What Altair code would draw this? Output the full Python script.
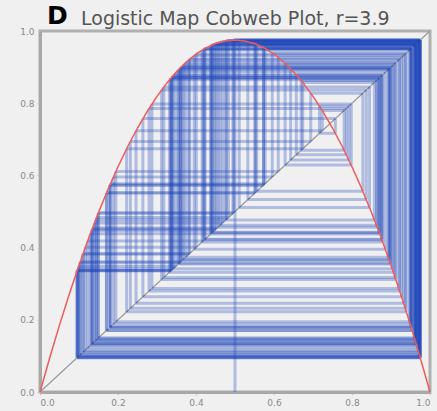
import altair as alt
import pandas as pd

# Orbit of the logistic map (r = 3.9) starting at x0 = 0.5, values as read/estimated
orbit = [0.5, 0.975, 0.0951, 0.3356, 0.8696, 0.4422, 0.9620, 0.1426, 0.4768, 0.9729,
         0.1028, 0.3597, 0.8982, 0.3566, 0.8948, 0.3671, 0.9061, 0.3318, 0.8647, 0.4563,
         0.9676, 0.1223, 0.4186, 0.9492, 0.1881, 0.5956, 0.9394, 0.2220, 0.6736, 0.8575,
         0.4766, 0.97286, 0.10296, 0.36020, 0.89878, 0.35480, 0.89278, 0.37332, 0.91241, 0.31168,
         0.83669, 0.53290, 0.97078, 0.11063, 0.38373, 0.92228, 0.27955, 0.78547, 0.65718, 0.87865,
         0.41583, 0.94737, 0.19445, 0.61089, 0.92704, 0.26378, 0.75738, 0.71665, 0.79195, 0.64258,
         0.89572, 0.36428, 0.90316, 0.34110, 0.87653, 0.42208, 0.95132, 0.18061, 0.57716, 0.95178,
         0.17899, 0.57312, 0.95415, 0.17062, 0.55189, 0.96450, 0.13354, 0.45126, 0.96573, 0.12907,
         0.43840, 0.96020, 0.14904, 0.49463, 0.97489, 0.09547, 0.33678, 0.87110, 0.43791, 0.95997,
         0.14987, 0.49690, 0.97496, 0.09521, 0.33597, 0.87007, 0.44089, 0.96137, 0.14484, 0.48306,
         0.97388, 0.09921, 0.34853, 0.88552, 0.39536, 0.93230, 0.24616, 0.72370, 0.77984, 0.66959,
         0.86283, 0.46158, 0.96924, 0.11627, 0.40073, 0.93657, 0.23169, 0.69424, 0.82786, 0.55578,
         0.96287, 0.13943, 0.46796, 0.97100, 0.10982, 0.38126, 0.92001, 0.28701, 0.79808, 0.62848,
         0.91062, 0.31742, 0.84499, 0.51083, 0.97454, 0.09677, 0.34088, 0.87626, 0.42287, 0.95180,
         0.17892, 0.57294, 0.95425, 0.17026, 0.55096, 0.96487, 0.13219, 0.44739, 0.96420, 0.13462,
         0.45434]

# Sampled points of the red parabola
curve_x = [0.0, 0.025, 0.05, 0.075, 0.1, 0.125, 0.15, 0.175, 0.2, 0.225, 0.25, 0.275, 0.3, 0.325,
           0.35, 0.375, 0.4, 0.425, 0.45, 0.475, 0.5, 0.525, 0.55, 0.575, 0.6, 0.625, 0.65, 0.675,
           0.7, 0.725, 0.75, 0.775, 0.8, 0.825, 0.85, 0.875, 0.9, 0.925, 0.95, 0.975, 1.0]
curve_y = [0.0, 0.09506, 0.18525, 0.27056, 0.351, 0.42656, 0.49725, 0.56306, 0.624, 0.68006,
           0.73125, 0.77756, 0.819, 0.85556, 0.88725, 0.91406, 0.936, 0.95306, 0.96525, 0.97256,
           0.975, 0.97256, 0.96525, 0.95306, 0.936, 0.91406, 0.88725, 0.85556, 0.819, 0.77756,
           0.73125, 0.68006, 0.624, 0.56306, 0.49725, 0.42656, 0.351, 0.27056, 0.18525, 0.09506, 0.0]

diag = [0.0, 1.0]
ticks = [0.0, 0.2, 0.4, 0.6, 0.8, 1.0]
title_letter = "D"
title_text = "Logistic Map Cobweb Plot, r=3.9"

# Build cobweb segments from the orbit
rows = [{"x": orbit[0], "y": 0.0, "x2": orbit[0], "y2": orbit[1]}]
for n in range(len(orbit) - 1):
    a, b = orbit[n], orbit[n + 1]
    rows.append({"x": a, "y": b, "x2": b, "y2": b})
    if n + 2 < len(orbit):
        rows.append({"x": b, "y": b, "x2": b, "y2": orbit[n + 2]})
segs = pd.DataFrame(rows)
curve = pd.DataFrame({"x": curve_x, "y": curve_y})
dline = pd.DataFrame({"x": diag, "y": diag})

xs = alt.Scale(domain=[0, 1], nice=False, zero=False)
ys = alt.Scale(domain=[0, 1], nice=False, zero=False)
axis_common = dict(values=ticks, format=".1f", labelFontSize=9, labelColor="#8a8a8a",
                   labelFont="DejaVu Sans", domainColor="#a8a8a8", domainWidth=3,
                   tickColor="#c8c8c8", tickSize=3, grid=False, title=None, labelPadding=3)
xa = alt.Axis(**axis_common)
ya = alt.Axis(**axis_common)

diag_layer = alt.Chart(dline).mark_line(color="#9a9a9a", strokeWidth=1.2).encode(
    x=alt.X("x:Q", scale=xs, axis=xa), y=alt.Y("y:Q", scale=ys, axis=ya))

cob = alt.Chart(segs).mark_rule(color="#1f47b8", opacity=0.3, strokeWidth=3).encode(
    x=alt.X("x:Q", scale=xs, axis=xa), y=alt.Y("y:Q", scale=ys, axis=ya),
    x2="x2:Q", y2="y2:Q")

red = alt.Chart(curve).mark_line(color="#f05a5a", strokeWidth=1.5).encode(
    x=alt.X("x:Q", scale=xs, axis=xa), y=alt.Y("y:Q", scale=ys, axis=ya))

t1 = alt.Chart(pd.DataFrame({"t": [title_letter]})).mark_text(
    font="DejaVu Sans", fontWeight="bold", fontSize=25, color="#000000",
    align="left", baseline="alphabetic").encode(
    x=alt.value(7), y=alt.value(-7), text="t:N")
t2 = alt.Chart(pd.DataFrame({"t": [title_text]})).mark_text(
    font="DejaVu Sans", fontSize=19, color="#555555",
    align="left", baseline="alphabetic").encode(
    x=alt.value(41), y=alt.value(-6), text="t:N")

chart = alt.layer(diag_layer, cob, red, t1, t2).properties(
    width=390, height=361,
    autosize=alt.AutoSizeParams(type="none"),
    padding={"left": 40, "top": 31, "right": 7, "bottom": 19},
    background="#f0f0f0",
).configure_view(stroke="#b0b0b0", strokeWidth=3)

chart.save("out.html", embed_options={"renderer": "svg", "actions": False})
